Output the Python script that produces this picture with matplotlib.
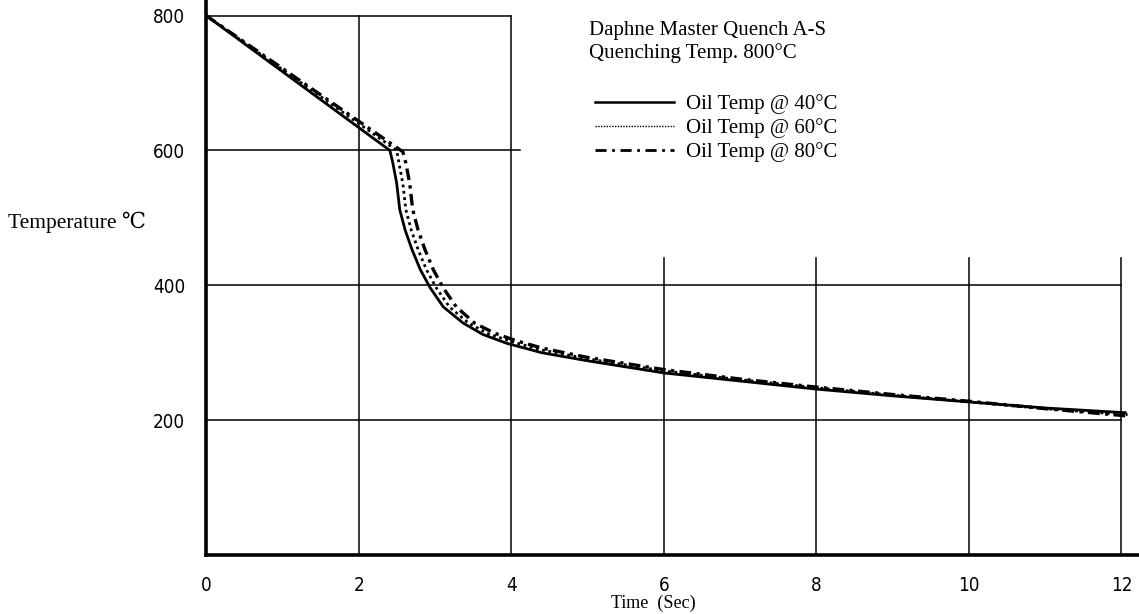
# quench curves, Daphne Master Quench A-S
import matplotlib.pyplot as plt
from matplotlib.lines import Line2D

# oil temp 40C (solid)
time_40 = [0, 2.41, 2.45, 2.50, 2.54, 2.61, 2.70, 2.81, 2.94, 3.11, 3.37, 3.63, 3.94,
           4.4, 5.0, 6.0, 7.0, 8.0, 9.0, 10.0, 11.0, 12.05]
temp_40 = [800, 600, 581, 551, 512, 482, 453, 423, 396, 368, 344, 327, 314,
           300, 288, 270, 258, 246, 236, 227, 218, 211]

# oil temp 60C (dotted)
time_60 = [0, 2.50, 2.53, 2.58, 2.62, 2.69, 2.78, 2.89, 3.02, 3.19, 3.44, 3.70, 4.02,
           4.4, 5.0, 6.0, 7.0, 8.0, 9.0, 10.0, 11.0, 12.08]
temp_60 = [800, 600, 581, 551, 512, 482, 453, 423, 396, 368, 344, 328, 316,
           304, 291, 273, 260, 248, 237, 227, 217, 208]

# oil temp 80C (dash-dot)
time_80 = [0, 2.58, 2.62, 2.67, 2.71, 2.78, 2.87, 2.98, 3.11, 3.28, 3.52, 3.78, 4.06,
           4.4, 5.0, 6.0, 7.0, 8.0, 9.0, 10.0, 11.0, 12.1]
temp_80 = [800, 598, 581, 551, 512, 482, 453, 423, 396, 368, 344, 329, 318,
           307, 293, 275, 261, 249, 238, 228, 217, 206]

x_ticks = [0, 2, 4, 6, 8, 10, 12]
y_ticks = [200, 400, 600, 800]
labels = ['Oil Temp @ 40\u00b0C', 'Oil Temp @ 60\u00b0C', 'Oil Temp @ 80\u00b0C']

serif = ['Liberation Serif', 'DejaVu Serif']

fig = plt.figure(figsize=(11.39, 6.14), dpi=100)
ax = fig.add_axes([206 / 1139, 59 / 614, 933 / 1139, 555 / 614])

# the odd partial grid of the original sheet
g = dict(color='black', lw=1.1, zorder=1)
ax.plot([0, 4], [800, 800], **g)
ax.plot([0, 4.11], [600, 600], **g)
ax.plot([0, 12], [400, 400], **g)
ax.plot([0, 12], [200, 200], **g)
for xv in [2, 4]:
    ax.plot([xv, xv], [0, 800], **g)
for xv in [6, 8, 10, 12]:
    ax.plot([xv, xv], [0, 440], **g)

ax.plot(time_40, temp_40, color='black', lw=2.0, zorder=3)
ax.plot(time_60, temp_60, color='black', lw=2.0, ls=(0, (1, 1.3)), zorder=3)
ax.plot(time_80, temp_80, color='black', lw=2.4, ls=(0, (3.5, 1.6, 1, 1.6)), zorder=3)

ax.set_xlim(0, 12.23)
ax.set_ylim(0, 823)
ax.set_xticks(x_ticks)
ax.set_yticks(y_ticks)
ax.tick_params(length=0, labelsize=13.5)
ax.tick_params(axis='x', pad=15)
ax.tick_params(axis='y', pad=15)
for t in ax.get_xticklabels() + ax.get_yticklabels():
    t.set_family('DejaVu Sans')
    t.set_fontstretch('condensed')

for s in ['top', 'right']:
    ax.spines[s].set_visible(False)
for s in ['left', 'bottom']:
    ax.spines[s].set_linewidth(2.6)

fig.text(589 / 1139, 1 - 30 / 614, 'Daphne Master Quench A-S', family=serif,
         fontsize=15, va='center', ha='left')
fig.text(589 / 1139, 1 - 53 / 614, 'Quenching Temp. 800\u00b0C', family=serif,
         fontsize=15, va='center', ha='left')

h1 = Line2D([], [], color='black', lw=1.8)
h2 = Line2D([], [], color='black', lw=1.0, ls=(0, (1, 1)))
h3 = Line2D([], [], color='black', lw=2.0, ls=(0, (4, 2, 1, 2)))
ax.legend([h1, h2, h3], labels, loc='upper left',
          bbox_to_anchor=(595 / 1139, 1 - 94 / 614), bbox_transform=fig.transFigure,
          frameon=False, borderpad=0, borderaxespad=0, handlelength=3.8,
          handletextpad=0.55, labelspacing=0.2, prop={'family': serif, 'size': 15})

fig.text(8 / 1139, 1 - 222 / 614, 'Temperature \u2103', family=serif + ['DejaVu Sans'],
         fontsize=15.5, va='center', ha='left')
fig.text(611 / 1139, 1 - 603 / 614, 'Time  (Sec)', family=serif,
         fontsize=13, va='center', ha='left')

fig.savefig('out.png', dpi=100)
